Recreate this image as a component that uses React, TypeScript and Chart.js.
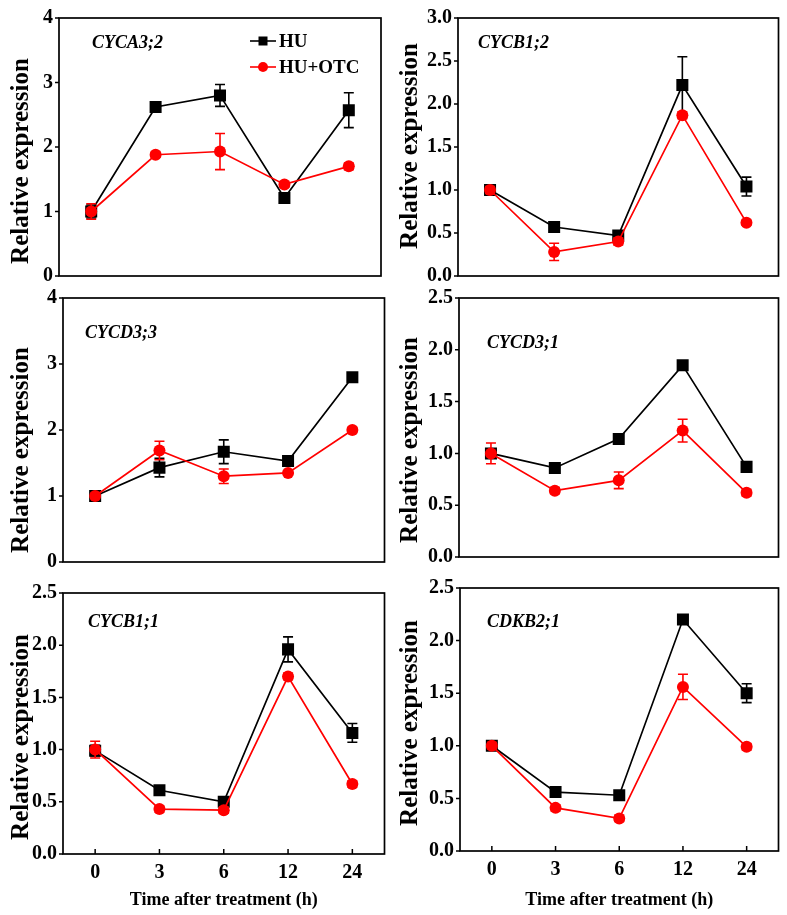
import React, { useEffect, useRef } from "react";
import { Chart, registerables } from "chart.js";

Chart.register(...registerables);

const FONT = "'Liberation Serif', 'Times New Roman', serif";

const timeLabels = ["0", "3", "6", "12", "24"];
const seriesNames = ["HU", "HU+OTC"];
const yAxisTitle = "Relative expression";
const xAxisTitle = "Time after treatment (h)";

const ticks0to4 = [0, 1, 2, 3, 4];
const ticks0to3 = [0, 0.5, 1, 1.5, 2, 2.5, 3];
const ticks0to25 = [0, 0.5, 1, 1.5, 2, 2.5];

// CYCA3;2
const cyca32HU = [1.0, 2.62, 2.8, 1.21, 2.57];
const cyca32HUErr = [0.1, 0.03, 0.17, 0.05, 0.27];
const cyca32OTC = [1.0, 1.88, 1.93, 1.42, 1.7];
const cyca32OTCErr = [0.12, 0.04, 0.28, 0.04, 0.05];

// CYCB1;2
const cycb12HU = [1.0, 0.57, 0.47, 2.22, 1.04];
const cycb12HUErr = [0.04, 0.04, 0.03, 0.33, 0.11];
const cycb12OTC = [1.0, 0.28, 0.4, 1.87, 0.62];
const cycb12OTCErr = [0.04, 0.1, 0.04, 0.04, 0.03];

// CYCD3;3
const cycd33HU = [1.0, 1.43, 1.67, 1.53, 2.8];
const cycd33HUErr = [0.03, 0.14, 0.18, 0.04, 0.04];
const cycd33OTC = [1.0, 1.69, 1.3, 1.35, 2.0];
const cycd33OTCErr = [0.04, 0.14, 0.11, 0.03, 0.04];

// CYCD3;1
const cycd31HU = [1.0, 0.86, 1.14, 1.85, 0.87];
const cycd31HUErr = [0.03, 0.02, 0.03, 0.02, 0.02];
const cycd31OTC = [1.0, 0.64, 0.74, 1.22, 0.62];
const cycd31OTCErr = [0.1, 0.03, 0.08, 0.11, 0.03];

// CYCB1;1
const cycb11HU = [0.99, 0.61, 0.5, 1.96, 1.16];
const cycb11HUErr = [0.05, 0.03, 0.03, 0.12, 0.09];
const cycb11OTC = [1.0, 0.43, 0.42, 1.7, 0.67];
const cycb11OTCErr = [0.08, 0.03, 0.03, 0.03, 0.03];

// CDKB2;1
const cdkb21HU = [1.0, 0.56, 0.53, 2.2, 1.5];
const cdkb21HUErr = [0.03, 0.03, 0.03, 0.03, 0.09];
const cdkb21OTC = [1.0, 0.41, 0.31, 1.56, 0.99];
const cdkb21OTCErr = [0.03, 0.03, 0.03, 0.12, 0.03];

type PanelCfg = {
  gene: string;
  hu: number[];
  huErr: number[];
  otc: number[];
  otcErr: number[];
  yTicks: number[];
  decimals: number;
  box: { x: number; y: number; w: number; h: number };
  area: { l: number; t: number; r: number; b: number };
  showX: boolean;
  genePos: { x: number; y: number };
  yTitlePos: { x: number; y: number };
  legend: boolean;
};

const panels: PanelCfg[] = [
  {
    gene: "CYCA3;2", hu: cyca32HU, huErr: cyca32HUErr, otc: cyca32OTC, otcErr: cyca32OTCErr,
    yTicks: ticks0to4, decimals: 0,
    box: { x: 0, y: 0, w: 393, h: 295 }, area: { l: 59, t: 15, r: 381, b: 276 },
    showX: false, genePos: { x: 92, y: 43 }, yTitlePos: { x: 22, y: 161 }, legend: true,
  },
  {
    gene: "CYCB1;2", hu: cycb12HU, huErr: cycb12HUErr, otc: cycb12OTC, otcErr: cycb12OTCErr,
    yTicks: ticks0to3, decimals: 1,
    box: { x: 393, y: 0, w: 394, h: 295 }, area: { l: 458, t: 12, r: 781, b: 276 },
    showX: false, genePos: { x: 478, y: 43 }, yTitlePos: { x: 411, y: 146 }, legend: false,
  },
  {
    gene: "CYCD3;3", hu: cycd33HU, huErr: cycd33HUErr, otc: cycd33OTC, otcErr: cycd33OTCErr,
    yTicks: ticks0to4, decimals: 0,
    box: { x: 0, y: 280, w: 393, h: 300 }, area: { l: 63, t: 297, r: 386, b: 567 },
    showX: false, genePos: { x: 85, y: 333 }, yTitlePos: { x: 22, y: 450 }, legend: false,
  },
  {
    gene: "CYCD3;1", hu: cycd31HU, huErr: cycd31HUErr, otc: cycd31OTC, otcErr: cycd31OTCErr,
    yTicks: ticks0to25, decimals: 1,
    box: { x: 393, y: 280, w: 394, h: 295 }, area: { l: 459, t: 297, r: 781, b: 562 },
    showX: false, genePos: { x: 487, y: 343 }, yTitlePos: { x: 411, y: 440 }, legend: false,
  },
  {
    gene: "CYCB1;1", hu: cycb11HU, huErr: cycb11HUErr, otc: cycb11OTC, otcErr: cycb11OTCErr,
    yTicks: ticks0to25, decimals: 1,
    box: { x: 0, y: 575, w: 393, h: 340 }, area: { l: 63, t: 592, r: 385, b: 854 },
    showX: true, genePos: { x: 88, y: 622 }, yTitlePos: { x: 22, y: 737 }, legend: false,
  },
  {
    gene: "CDKB2;1", hu: cdkb21HU, huErr: cdkb21HUErr, otc: cdkb21OTC, otcErr: cdkb21OTCErr,
    yTicks: ticks0to25, decimals: 1,
    box: { x: 393, y: 570, w: 394, h: 345 }, area: { l: 460, t: 588, r: 780, b: 851 },
    showX: true, genePos: { x: 487, y: 622 }, yTitlePos: { x: 411, y: 723 }, legend: false,
  },
];

function makePlugin(cfg: PanelCfg) {
  return {
    id: "panelDecor",
    beforeDatasetsDraw(chart: any) {
      const ctx = chart.ctx;
      const a = chart.chartArea;
      ctx.save();
      ctx.strokeStyle = "#000";
      ctx.lineWidth = 1.7;
      ctx.strokeRect(a.left, a.top, a.right - a.left, a.bottom - a.top);
      const ys = chart.scales.y;
      ctx.lineWidth = 1.5;
      ctx.beginPath();
      ys.ticks.forEach((t: any) => {
        const py = ys.getPixelForValue(t.value);
        ctx.moveTo(a.left - 4, py);
        ctx.lineTo(a.left, py);
      });
      if (cfg.showX) {
        const xs = chart.scales.x;
        timeLabels.forEach((_l, i) => {
          const px = xs.getPixelForValue(i);
          ctx.moveTo(px, a.bottom);
          ctx.lineTo(px, a.bottom - 5);
        });
      }
      ctx.stroke();
      ctx.restore();
    },
    beforeDatasetDraw(chart: any, args: any) {
      const ds = chart.data.datasets[args.index];
      const errs: number[] = ds.errors;
      if (!errs) return;
      const meta = chart.getDatasetMeta(args.index);
      const ys = chart.scales.y;
      const ctx = chart.ctx;
      ctx.save();
      ctx.strokeStyle = ds.borderColor;
      ctx.lineWidth = 1.6;
      meta.data.forEach((pt: any, i: number) => {
        const v = ds.data[i];
        const e = errs[i];
        const y1 = ys.getPixelForValue(v + e);
        const y2 = ys.getPixelForValue(v - e);
        ctx.beginPath();
        ctx.moveTo(pt.x, y1);
        ctx.lineTo(pt.x, y2);
        ctx.moveTo(pt.x - 5, y1);
        ctx.lineTo(pt.x + 5, y1);
        ctx.moveTo(pt.x - 5, y2);
        ctx.lineTo(pt.x + 5, y2);
        ctx.stroke();
      });
      ctx.restore();
    },
    afterDraw(chart: any) {
      const ctx = chart.ctx;
      const bx = cfg.box.x;
      const by = cfg.box.y;
      ctx.save();
      ctx.fillStyle = "#000";
      ctx.font = `italic bold 18px ${FONT}`;
      ctx.textAlign = "left";
      ctx.textBaseline = "middle";
      ctx.fillText(cfg.gene, cfg.genePos.x - bx, cfg.genePos.y - by);
      ctx.save();
      ctx.translate(cfg.yTitlePos.x - bx, cfg.yTitlePos.y - by);
      ctx.rotate(-Math.PI / 2);
      ctx.textAlign = "center";
      ctx.font = `bold 25px ${FONT}`;
      ctx.fillText(yAxisTitle, 0, 0);
      ctx.restore();
      if (cfg.legend) {
        const items = [
          { name: seriesNames[0], color: "#000000", style: "rect", y: 41 },
          { name: seriesNames[1], color: "#ff0000", style: "circle", y: 67 },
        ];
        ctx.font = `bold 19px ${FONT}`;
        items.forEach((it) => {
          const y = it.y - by;
          ctx.strokeStyle = it.color;
          ctx.fillStyle = it.color;
          ctx.lineWidth = 1.6;
          ctx.beginPath();
          ctx.moveTo(250 - bx, y);
          ctx.lineTo(276 - bx, y);
          ctx.stroke();
          const cx = 263 - bx;
          if (it.style === "rect") {
            ctx.fillRect(cx - 4.5, y - 4.5, 9, 9);
          } else {
            ctx.beginPath();
            ctx.arc(cx, y, 5, 0, Math.PI * 2);
            ctx.fill();
          }
          ctx.fillStyle = "#000";
          ctx.textAlign = "left";
          ctx.textBaseline = "middle";
          ctx.fillText(it.name, 279 - bx, y + 1);
        });
      }
      ctx.restore();
    },
  };
}

function Panel({ cfg }: { cfg: PanelCfg }) {
  const ref = useRef<HTMLCanvasElement>(null);
  useEffect(() => {
    if (!ref.current) return;
    const { box, area } = cfg;
    const yMin = cfg.yTicks[0];
    const yMax = cfg.yTicks[cfg.yTicks.length - 1];
    const chart = new Chart(ref.current, {
      type: "line",
      data: {
        labels: timeLabels,
        datasets: [
          {
            label: seriesNames[0],
            data: cfg.hu,
            errors: cfg.huErr,
            borderColor: "#000000",
            backgroundColor: "#000000",
            pointBackgroundColor: "#000000",
            pointBorderColor: "#000000",
            pointStyle: "rect",
            pointRadius: 8.5,
            pointBorderWidth: 0,
            borderWidth: 1.7,
            tension: 0,
            order: 2,
          } as any,
          {
            label: seriesNames[1],
            data: cfg.otc,
            errors: cfg.otcErr,
            borderColor: "#ff0000",
            backgroundColor: "#ff0000",
            pointBackgroundColor: "#ff0000",
            pointBorderColor: "#ff0000",
            pointStyle: "circle",
            pointRadius: 6,
            pointBorderWidth: 0,
            borderWidth: 1.7,
            tension: 0,
            order: 1,
          } as any,
        ],
      },
      options: {
        responsive: false,
        animation: false,
        devicePixelRatio: 1,
        events: [],
        layout: {
          padding: {
            left: 0,
            top: area.t - box.y,
            right: box.x + box.w - area.r,
            bottom: 0,
          },
        },
        plugins: {
          legend: { display: false },
          tooltip: { enabled: false },
        },
        scales: {
          x: {
            type: "category",
            offset: true,
            grid: { display: false, drawTicks: false },
            border: { display: false },
            ticks: {
              display: cfg.showX,
              padding: 7,
              color: "#000",
              font: { family: FONT, size: 20, weight: "bold" },
            },
            title: {
              display: cfg.showX,
              text: xAxisTitle,
              color: "#000",
              font: { family: FONT, size: 18, weight: "bold" },
              padding: { top: 0, bottom: 4 },
            },
            afterFit: (s: any) => {
              s.height = box.y + box.h - area.b;
            },
          },
          y: {
            min: yMin,
            max: yMax,
            grid: { display: false, drawTicks: false },
            border: { display: false },
            ticks: {
              padding: 6,
              color: "#000",
              font: { family: FONT, size: 20, weight: "bold" },
              callback: (v: any) => Number(v).toFixed(cfg.decimals),
            },
            afterBuildTicks: (s: any) => {
              s.ticks = cfg.yTicks.map((v) => ({ value: v }));
            },
            afterFit: (s: any) => {
              s.width = area.l - box.x;
            },
          },
        },
      } as any,
      plugins: [makePlugin(cfg)],
    });
    return () => chart.destroy();
  }, [cfg]);
  const { box } = cfg;
  return (
    <canvas
      ref={ref}
      width={box.w}
      height={box.h}
      style={{ position: "absolute", left: box.x, top: box.y, width: box.w, height: box.h }}
    />
  );
}

export default function App() {
  return (
    <div
      style={{
        position: "absolute",
        left: 0,
        top: 0,
        width: 787,
        height: 915,
        background: "#ffffff",
        overflow: "hidden",
      }}
    >
      {panels.map((p) => (
        <Panel key={p.gene} cfg={p} />
      ))}
    </div>
  );
}
